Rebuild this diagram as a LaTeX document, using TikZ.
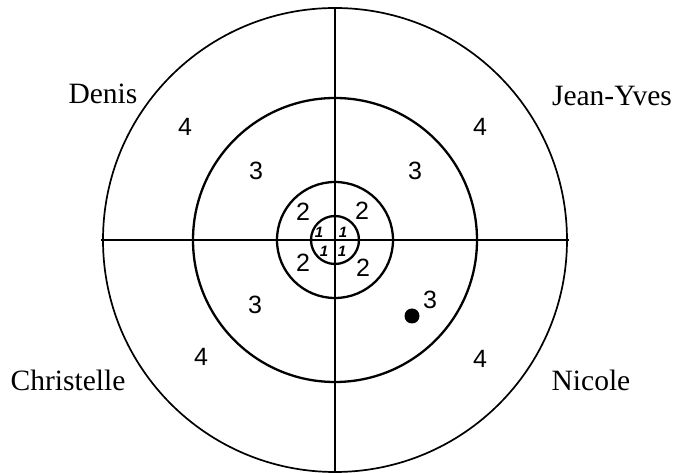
\documentclass[tikz,border=0pt]{standalone}
\usepackage{fontspec}
\setmainfont{Liberation Serif}
\setsansfont{Liberation Sans}
\usetikzlibrary{positioning}

\begin{document}
\begin{tikzpicture}[
  x=1pt, y=1pt,
  ring/.style={line width=2.3pt},
  rim/.style={line width=1.7pt},
  player/.style={font=\fontsize{29.5}{32}\selectfont, inner sep=0pt},
  score/.style={font=\sffamily\fontsize{25}{28}\selectfont, inner sep=0pt},
  small/.style={font=\sffamily\bfseries\itshape\fontsize{15}{17}\selectfont, inner sep=0pt}
]
\useasboundingbox (-335,-233) rectangle (342,240);
\coordinate (c) at (0,0);

% target
\draw[rim] (c) circle (232);
\draw[ring] (c) circle (142);
\draw[ring] (c) circle (58);
\draw[ring] (c) circle (24);
\draw[ring] (c) ++(0,231) coordinate (top) -- ++(0,-463) coordinate (bot);
\draw[ring] (c) ++(-234,0) coordinate (lft) -- ++(468,0) coordinate (rgt);

% players
\node[player] (denis) at (-232,146) {Denis};
\node[player] (jeanyves) at (277,144) {Jean-Yves};
\node[player] (christelle) at (-267,-140) {Christelle};
\node[player] (nicole) at (256,-140) {Nicole};

% scores
\node[score] (s4a) at (-150,113) {4};
\node[score] (s4b) at (145,113) {4};
\node[score] (s4c) at (-134,-117) {4};
\node[score] (s4d) at (145,-119) {4};
\node[score] (s3a) at (-79,69) {3};
\node[score] (s3b) at (80,69) {3};
\node[score] (s3c) at (-80,-65) {3};
\node[score] (s3d) at (95,-60) {3};
\node[score] (s2a) at (-32,28) {2};
\node[score] (s2b) at (27,29) {2};
\node[score] (s2c) at (-32,-23) {2};
\node[score] (s2d) at (28,-28) {2};
\node[small] (s1a) at (-16,8) {1};
\node[small] (s1b) at (8,8) {1};
\node[small] (s1c) at (-11,-11) {1};
\node[small] (s1d) at (7,-11) {1};

% the shot
\fill (77,-76) circle (7.5);
\end{tikzpicture}
\end{document}
